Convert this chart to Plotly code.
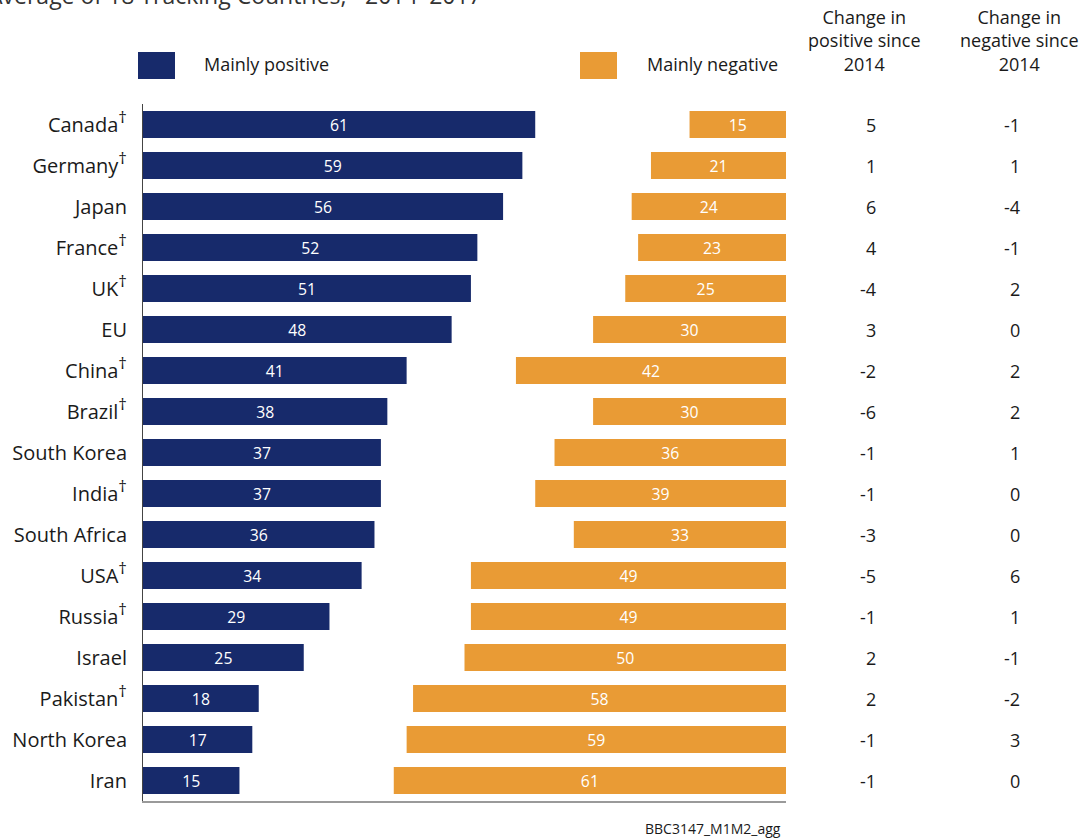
import plotly.graph_objects as go

countries = ["Canada", "Germany", "Japan", "France", "UK", "EU", "China", "Brazil",
             "South Korea", "India", "South Africa", "USA", "Russia", "Israel",
             "Pakistan", "North Korea", "Iran"]
dagger = [True, True, False, True, True, False, True, True,
          False, True, False, True, True, False, True, False, False]
positive = [61, 59, 56, 52, 51, 48, 41, 38, 37, 37, 36, 34, 29, 25, 18, 17, 15]
negative = [15, 21, 24, 23, 25, 30, 42, 30, 36, 39, 33, 49, 49, 50, 58, 59, 61]
chg_pos = [5, 1, 6, 4, -4, 3, -2, -6, -1, -1, -3, -5, -1, 2, 2, -1, -1]
chg_neg = [-1, 1, -4, -1, 2, 0, 2, 2, 1, 0, 0, 6, 1, -1, -2, 3, 0]

BLUE = "#172a6b"
ORANGE = "#e99b35"
FONT = "Open Sans"
TXT = "#1a1a1a"

fig = go.Figure()
fig.add_trace(go.Bar(
    y=countries, x=positive, base=0, orientation="h", marker_color=BLUE,
    marker_line_width=0, width=0.66,
    text=[str(v) for v in positive], textposition="inside", textangle=0,
    insidetextanchor="middle", textfont=dict(color="white", size=18, family=FONT),
    showlegend=False, hoverinfo="skip"))
fig.add_trace(go.Bar(
    y=countries, x=negative, base=[100 - v for v in negative], orientation="h",
    marker_color=ORANGE, marker_line_width=0, width=0.66,
    text=[str(v) for v in negative], textposition="inside", textangle=0,
    insidetextanchor="middle", textfont=dict(color="white", size=18, family=FONT),
    showlegend=False, hoverinfo="skip"))

ticktext = [c + ("<sup><span style='font-size:17px'>†</span></sup>" if d else "")
            for c, d in zip(countries, dagger)]

fig.update_layout(
    width=1084, height=839,
    margin=dict(l=143, r=298, t=104, b=38),
    paper_bgcolor="white", plot_bgcolor="white",
    barmode="overlay",
    font=dict(family=FONT, color=TXT),
    xaxis=dict(range=[0, 100], showticklabels=False, showgrid=False, zeroline=False,
               showline=True, linecolor="#9a9a9a", linewidth=2, ticks="",
               automargin=False),
    yaxis=dict(categoryorder="array", categoryarray=countries, autorange="reversed",
               tickmode="array", tickvals=countries, ticktext=ticktext,
               tickfont=dict(size=20, family=FONT, color=TXT),
               showgrid=False, zeroline=False, showline=True, linecolor="#444444",
               linewidth=1, ticks="", ticklabelstandoff=11, automargin=False),
)

ph = 697.0
def py(pix):
    return 1 + (104 - pix) / ph
def px(pix):
    return (pix - 143) / 643.0

ann = []
# right-hand columns
for i, c in enumerate(countries):
    ann.append(dict(x=px(878), y=c, xref="paper", yref="y", text=str(chg_pos[i]),
                    showarrow=False, font=dict(size=18, family=FONT, color=TXT)))
    ann.append(dict(x=px(1022), y=c, xref="paper", yref="y", text=str(chg_neg[i]),
                    showarrow=False, font=dict(size=18, family=FONT, color=TXT)))

ann.append(dict(x=px(864), y=py(40), xref="paper", yref="paper",
                text="Change in<br>positive since<br>2014", showarrow=False,
                font=dict(size=18, family=FONT, color=TXT), align="center",
                xanchor="center", yanchor="middle"))
ann.append(dict(x=px(1019), y=py(40), xref="paper", yref="paper",
                text="Change in<br>negative since<br>2014", showarrow=False,
                font=dict(size=18, family=FONT, color=TXT), align="center",
                xanchor="center", yanchor="middle"))
# legend
ann.append(dict(x=px(202), y=py(64), xref="paper", yref="paper", text="Mainly positive",
                showarrow=False, xanchor="left", yanchor="middle",
                font=dict(size=18, family=FONT, color=TXT)))
ann.append(dict(x=px(645), y=py(64), xref="paper", yref="paper", text="Mainly negative",
                showarrow=False, xanchor="left", yanchor="middle",
                font=dict(size=18, family=FONT, color=TXT)))
# title (clipped at top, as in the original)
ann.append(dict(x=px(-14), y=py(-5), xref="paper", yref="paper",
                text="Average of 18 Tracking Countries,* 2014–2017", showarrow=False,
                xanchor="left", yanchor="middle",
                font=dict(size=23, family=FONT, color="#333333")))
# footer
ann.append(dict(x=px(783), y=py(828), xref="paper", yref="paper", text="BBC3147_M1M2_agg",
                showarrow=False, xanchor="right", yanchor="middle",
                font=dict(size=14, family=FONT, color=TXT)))
fig.update_layout(annotations=ann)

shapes = [
    dict(type="rect", xref="paper", yref="paper", x0=px(138), x1=px(175),
         y0=py(79), y1=py(52), fillcolor=BLUE, line_width=0),
    dict(type="rect", xref="paper", yref="paper", x0=px(580), x1=px(617),
         y0=py(79), y1=py(52), fillcolor=ORANGE, line_width=0),
]
fig.update_layout(shapes=shapes)

fig.write_html("out.html")
